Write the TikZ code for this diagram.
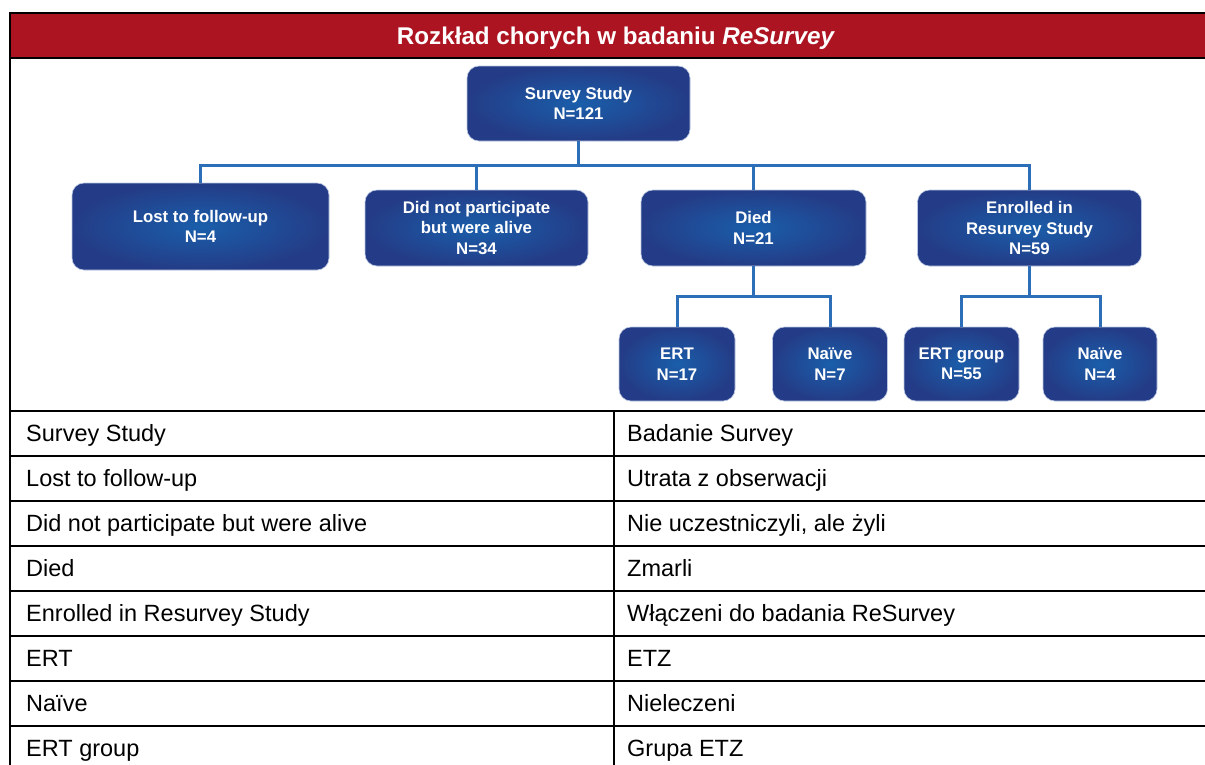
\documentclass[tikz,border=0pt]{standalone}
\usepackage{fontspec}
\setmainfont{Liberation Sans}
\usetikzlibrary{positioning}
\definecolor{hdrred}{RGB}{173,20,34}
\definecolor{boxin}{RGB}{26,94,170}
\definecolor{boxout}{RGB}{36,60,135}
\definecolor{boxedge}{RGB}{185,198,225}
\definecolor{conn}{RGB}{45,110,185}
\tikzset{
  fbox/.style={rounded corners=12pt, inner color=boxin, outer color=boxout,
    draw=boxedge, line width=0.6pt, align=center, text=white,
    font=\fontsize{16.8}{20.5}\selectfont\bfseries, inner sep=0pt},
  link/.style={draw=conn, line width=3pt},
  grid/.style={draw=black, line width=2pt},
  tabtxt/.style={anchor=base west, inner sep=0pt, font=\fontsize{23.5}{28}\selectfont},
  hdrtxt/.style={anchor=base, inner sep=0pt, text=white, font=\fontsize{24.2}{28}\selectfont\bfseries}
}
\begin{document}
\begin{tikzpicture}[x=1pt,y=-1pt]
\useasboundingbox (0,0) rectangle (1205,764);
% header
\fill[hdrred] (10,13) rectangle (1205,58);
\node[hdrtxt] (hdr) at (616,44.6) {Rozkład chorych w badaniu \textit{ReSurvey}};
% table lines
\draw[grid] (1205,13) -- (10,13) -- (10,770);
\draw[grid] (10,58) -- (1205,58);
\foreach \k in {0,...,7} {\draw[grid] (10,410.5+45*\k) -- (1205,410.5+45*\k);}
\draw[grid] (614,410.5) -- (614,770);
% boxes
\node[fbox, minimum width=223pt, minimum height=75pt] (top) at (578.5,103.5) {Survey Study\\N=121};
\node[fbox, minimum width=257pt, minimum height=87pt] (lost) at (200.5,226.5) {Lost to follow-up\\N=4};
\node[fbox, minimum width=223pt, minimum height=76pt] (dnp) at (476.5,228) {Did not participate\\but were alive\\N=34};
\node[fbox, minimum width=225pt, minimum height=76pt] (died) at (753.5,228) {Died\\N=21};
\node[fbox, minimum width=224pt, minimum height=76pt] (enr) at (1029.5,228) {Enrolled in\\Resurvey Study\\N=59};
\node[fbox, minimum width=116pt, minimum height=74pt] (ert) at (677,364) {ERT\\N=17};
\node[fbox, minimum width=115pt, minimum height=74pt] (nai1) at (830,364) {Naïve\\N=7};
\node[fbox, minimum width=115pt, minimum height=74pt] (ertg) at (961.5,364) {ERT group\\N=55};
\node[fbox, minimum width=114pt, minimum height=74pt] (nai2) at (1100,364) {Naïve\\N=4};
% connectors
\coordinate (b1) at (578.5,165);
\coordinate (b2) at (753.5,296);
\coordinate (b3) at (1029.5,296);
\draw[link] (top.south) -- (b1);
\draw[link] (lost.north) |- (b1);
\draw[link] (dnp.north) |- (b1);
\draw[link] (died.north) |- (b1);
\draw[link] (enr.north) |- (b1);
\draw[link] (died.south) -- (b2);
\draw[link] (ert.north) |- (b2);
\draw[link] (nai1.north) |- (b2);
\draw[link] (enr.south) -- (b3);
\draw[link] (ertg.north) |- (b3);
\draw[link] (nai2.north) |- (b3);
% table text
\node[tabtxt] (l1) at (26,441.6) {Survey Study};
\node[tabtxt] (r1) at (627,441.6) {Badanie Survey};
\node[tabtxt] (l2) at (26,486.6) {Lost to follow-up};
\node[tabtxt] (r2) at (627,486.6) {Utrata z obserwacji};
\node[tabtxt] (l3) at (26,531.6) {Did not participate but were alive};
\node[tabtxt] (r3) at (627,531.6) {Nie uczestniczyli, ale żyli};
\node[tabtxt] (l4) at (26,576.6) {Died};
\node[tabtxt] (r4) at (627,576.6) {Zmarli};
\node[tabtxt] (l5) at (26,621.6) {Enrolled in Resurvey Study};
\node[tabtxt] (r5) at (627,621.6) {Włączeni do badania ReSurvey};
\node[tabtxt] (l6) at (26,666.6) {ERT};
\node[tabtxt] (r6) at (627,666.6) {ETZ};
\node[tabtxt] (l7) at (26,711.6) {Naïve};
\node[tabtxt] (r7) at (627,711.6) {Nieleczeni};
\node[tabtxt] (l8) at (26,756.6) {ERT group};
\node[tabtxt] (r8) at (627,756.6) {Grupa ETZ};
\end{tikzpicture}
\end{document}
